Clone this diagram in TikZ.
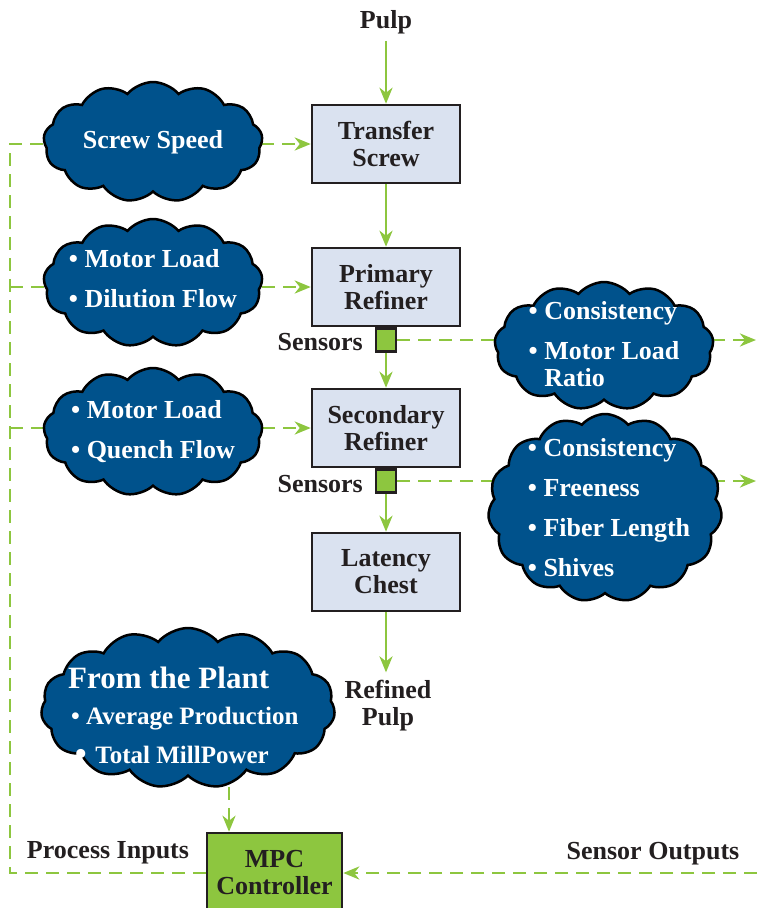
\documentclass[tikz,border=0pt]{standalone}
\usepackage{fontspec}
\setmainfont{Liberation Serif}
\newfontfamily\bulfont[Scale=1.03]{DejaVu Serif}
\usetikzlibrary{shapes.symbols,arrows.meta,backgrounds}
\definecolor{cloudblue}{RGB}{0,82,140}
\definecolor{boxfill}{RGB}{218,226,240}
\definecolor{flowgreen}{RGB}{141,198,63}
\definecolor{dark}{RGB}{35,31,32}
\newcommand{\fs}{\bfseries\fontsize{26}{27}\selectfont}
\newcommand{\bul}{\textbullet\ }
\begin{document}
\begin{tikzpicture}[x=1pt,y=-1pt,
  >={Stealth[length=16pt,width=13pt,inset=5pt]},
  stepbox/.style={draw=dark, line width=2.5pt, fill=boxfill, minimum width=148pt, minimum height=78pt, align=center, font=\fs, text=dark, inner sep=0pt},
  mpcbox/.style={draw=dark, line width=2.5pt, fill=flowgreen, minimum width=135pt, minimum height=80pt, align=center, font=\fs, text=dark, inner sep=0pt},
  sensorbox/.style={draw=dark, line width=2.5pt, fill=flowgreen, minimum width=20pt, minimum height=23pt, inner sep=0pt},
  lbl/.style={text=dark, font=\fs, align=center, inner sep=2pt},
  cloudnode/.style={cloud, cloud puffs=13, cloud puff arc=100, cloud ignores aspect, draw=black, line width=2.5pt, fill=cloudblue, inner sep=0pt},
  ctext/.style={text=white, font=\fs, align=left, inner sep=0pt},
  flow/.style={draw=flowgreen, line width=2.8pt, ->},
  dline/.style={draw=flowgreen, line width=2.8pt, dash pattern=on 13pt off 8pt, ->}
]
\useasboundingbox (0,0) rectangle (757,908);
\clip (0,0) rectangle (757,908);

% process boxes
\node[lbl] (pulp) at (386,22) {Pulp};
\node[stepbox] (ts) at (386,144) {Transfer\\Screw};
\node[stepbox] (pr) at (386,287) {Primary\\Refiner};
\node[stepbox] (sr) at (386,428) {Secondary\\Refiner};
\node[stepbox] (lc) at (386,572) {Latency\\Chest};
\node[sensorbox, anchor=north] (s1) at (pr.south) {};
\node[sensorbox, anchor=north] (s2) at (sr.south) {};
\node[lbl, anchor=east] (s1l) at (365,342) {Sensors};
\node[lbl, anchor=east] (s2l) at (365,484) {Sensors};
\node[lbl] (rp) at (388,706) {Refined\\Pulp};
\node[mpcbox] (mpc) at (274.5,873) {MPC\\Controller};
\node[lbl] (pin) at (108,853) {Process Inputs};
\node[lbl] (sout) at (653,854) {Sensor Outputs};

% clouds
\node[cloudnode, minimum width=219pt, minimum height=120pt] (c1) at (153,142) {};
\node[ctext] (t1) at (c1.center) {Screw Speed};
\node[cloudnode, minimum width=219pt, minimum height=128pt] (c2) at (153,283) {};
\node[ctext, yshift=4pt] (t2) at (c2.center) {\bul Motor Load\\[13pt]\bul Dilution Flow};
\node[cloudnode, minimum width=219pt, minimum height=128pt] (c3) at (153,432) {};
\node[ctext] (t3) at (c3.center) {\bul Motor Load\\[13pt]\bul Quench Flow};
\node[cloudnode, minimum width=219pt, minimum height=128pt] (c4) at (604,346) {};
\node[ctext, yshift=2pt] (t4) at (c4.center) {\bul Consistency\\[13pt]\bul Motor Load\\\hphantom{\bul}Ratio};
\node[cloudnode, cloud puffs=15, minimum width=294pt, minimum height=160pt] (c6) at (188,708) {};
\node[cloudnode, cloud puffs=15, minimum width=234pt, minimum height=188pt] (c5) at (605,508) {};
\node[ctext, xshift=4pt] (t5) at (c5.center) {\bul Consistency\\[13pt]\bul Freeness\\[13pt]\bul Fiber Length\\[13pt]\bul Shives};
\node[ctext, anchor=west, font=\bfseries\fontsize{31}{33}\selectfont] (t6a) at (68,678) {From the Plant};
\node[ctext, anchor=west, font=\bfseries\fontsize{25}{27}\selectfont] (t6b) at (71,719) {\bul Average Production};
\node[ctext, anchor=west, font=\bfseries\fontsize{25}{27}\selectfont] (t6c) at (72.5,755) {{\bulfont •}\ Total MillPower};

\begin{pgfonlayer}{background}
  % main flow
  \draw[flow, shorten <=5pt] (pulp.south) -- (ts.north);
  \draw[flow] (ts.south) -- (pr.north);
  \draw[flow] (s1.south) -- (sr.north);
  \draw[flow] (s2.south) -- (lc.north);
  \draw[flow, shorten >=6pt] (lc.south) -- (lc.south |- rp.north);
  % process inputs
  \coordinate (lft) at (10,873);
  \draw[dline] (mpc.west) -- (lft) |- (ts.west);
  \coordinate (j2) at (lft |- pr.west);
  \coordinate (j3) at (lft |- sr.west);
  \draw[dline] (j2) -- (pr.west);
  \draw[dline] (j3) -- (sr.west);
  % sensor outputs
  \coordinate (redge) at (756,0);
  \draw[dline] (s1.east) -- (s1.east -| redge);
  \draw[dline] (s2.east) -- (s2.east -| redge);
  \coordinate (sin) at (757,873);
  \draw[dline] (sin) -- (mpc.east);
  % plant
  \coordinate (pb) at (229,745);
  \draw[dline] (pb) -- (pb |- mpc.north);
\end{pgfonlayer}
\end{tikzpicture}
\end{document}
